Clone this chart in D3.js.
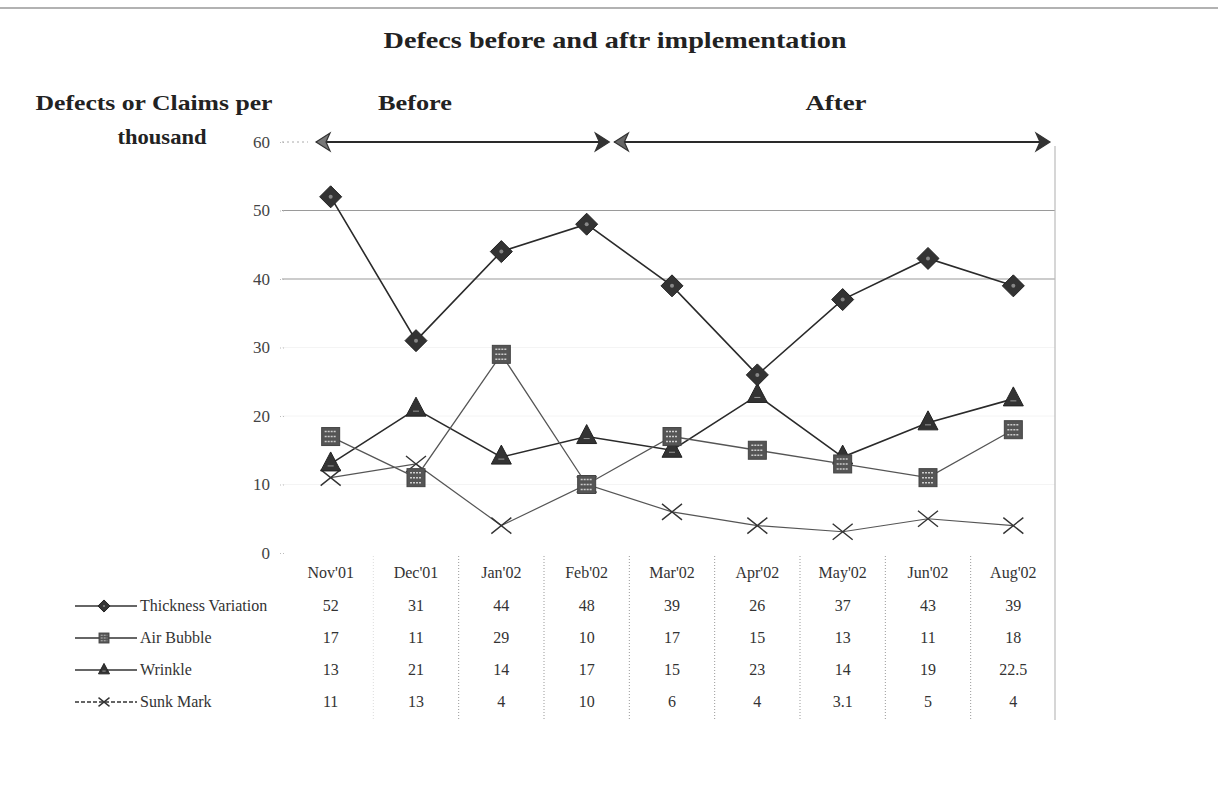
<!DOCTYPE html>
<html><head><meta charset="utf-8">
<script src="https://cdn.jsdelivr.net/npm/d3@7"></script>
<style>
body{margin:0;background:#fff;}
svg{display:block;}
text{font-family:"Liberation Serif","Times New Roman",serif;}
</style></head>
<body>
<script>
const months = ["Nov'01","Dec'01","Jan'02","Feb'02","Mar'02","Apr'02","May'02","Jun'02","Aug'02"];
const thickness = [52,31,44,48,39,26,37,43,39];
const airBubble = [17,11,29,10,17,15,13,11,18];
const wrinkle = [13,21,14,17,15,23,14,19,22.5];
const sunkMark = [11,13,4,10,6,4,3.1,5,4];
const seriesNames = ["Thickness Variation","Air Bubble","Wrinkle","Sunk Mark"];
const tableLabels = [["52","31","44","48","39","26","37","43","39"],["17","11","29","10","17","15","13","11","18"],["13","21","14","17","15","23","14","19","22.5"],["11","13","4","10","6","4","3.1","5","4"]];
const yTicks = [0,10,20,30,40,50,60];

const W=1218,H=793;
const svg=d3.select("body").append("svg").attr("width",W).attr("height",H);
svg.append("rect").attr("width",W).attr("height",H).attr("fill","#fff");

// top scan border
svg.append("line").attr("x1",0).attr("x2",W).attr("y1",8).attr("y2",8).attr("stroke","#999").attr("stroke-width",1.5);

const x=d3.scaleBand().domain(months).range([288,1056]);
const cx=m=>x(m)+x.bandwidth()/2;
const y=d3.scaleLinear().domain([0,60]).range([553,142]);

function label(txt,xc,yb,len,fs){
  svg.append("text").attr("x",xc).attr("y",yb).attr("text-anchor","middle").attr("font-size",fs).attr("font-weight","bold").attr("fill","#222")
    .attr("textLength",len).attr("lengthAdjust","spacingAndGlyphs").text(txt);
}
label("Defecs before and aftr implementation",615,48,463,23);
label("Defects or Claims per",154,110,237,21);
label("thousand",162,144,89,21);
label("Before",415,110,74,21);
label("After",836,110,61,21);

// gridlines
const g=svg.append("g");
[50,40].forEach(v=>g.append("line").attr("x1",282).attr("x2",1055).attr("y1",y(v)).attr("y2",y(v)).attr("stroke","#9a9a9a").attr("stroke-width",1.2));
[30,20,10].forEach(v=>g.append("line").attr("x1",282).attr("x2",1055).attr("y1",y(v)).attr("y2",y(v)).attr("stroke","#f4f4f4").attr("stroke-width",1));
// right frame
g.append("line").attr("x1",1055).attr("x2",1055).attr("y1",146).attr("y2",720).attr("stroke","#bbb").attr("stroke-width",1.2);

// y axis
const yAxis=d3.axisLeft(y).tickValues(yTicks).tickSize(4).tickPadding(10);
const ya=svg.append("g").attr("transform","translate(284,0)").call(yAxis);
ya.select(".domain").remove();
ya.selectAll(".tick line").attr("stroke","#bbb").attr("stroke-dasharray","1,2");
ya.selectAll(".tick text").attr("font-size",17).attr("fill","#444").attr("font-family","Liberation Serif, serif");
svg.append("line").attr("x1",282).attr("x2",308).attr("y1",y(60)).attr("y2",y(60)).attr("stroke","#aaa").attr("stroke-dasharray","2,3");

// arrows
function arrowHead(xTip,yv,dir,fill){
  const w=14,h=9;
  const p=[[xTip,yv],[xTip-dir*w,yv-h],[xTip-dir*w+dir*4,yv],[xTip-dir*w,yv+h]];
  svg.append("path").attr("d",d3.line()(p)+"Z").attr("fill",fill).attr("stroke","#333").attr("stroke-width",1.2);
}
const ay=y(60);
const bStart=x("Nov'01")+28, bEnd=x("Mar'02")-20, aStart=x("Mar'02")-15, aEnd=x("Aug'02")+x.bandwidth()-6;
svg.append("line").attr("x1",bStart).attr("x2",bEnd-8).attr("y1",ay).attr("y2",ay).attr("stroke","#2a2a2a").attr("stroke-width",2.2);
svg.append("line").attr("x1",aStart).attr("x2",aEnd-8).attr("y1",ay).attr("y2",ay).attr("stroke","#2a2a2a").attr("stroke-width",2.2);
arrowHead(bStart,ay,-1,"#777");
arrowHead(bEnd,ay,1,"#333");
arrowHead(aStart,ay,-1,"#666");
arrowHead(aEnd,ay,1,"#333");

// series
const series=[
 {name:seriesNames[0],vals:thickness,stroke:"#2a2a2a",sw:1.6,marker:"diamond"},
 {name:seriesNames[1],vals:airBubble,stroke:"#555",sw:1.3,marker:"square"},
 {name:seriesNames[2],vals:wrinkle,stroke:"#2a2a2a",sw:1.6,marker:"triangle"},
 {name:seriesNames[3],vals:sunkMark,stroke:"#555",sw:1.2,marker:"x"}
];
const line=d3.line().x((d,i)=>cx(months[i])).y(d=>y(d));

function drawMarker(sel,type,px,py,scale){
  const s=scale||1;
  if(type==="diamond"){
    const a=11*s;
    sel.append("path").attr("d",`M${px},${py-a}L${px+a},${py}L${px},${py+a}L${px-a},${py}Z`).attr("fill","#333").attr("stroke","#222");
    sel.append("circle").attr("cx",px).attr("cy",py).attr("r",2*s).attr("fill","#888");
  } else if(type==="square"){
    const a=9*s;
    sel.append("rect").attr("x",px-a).attr("y",py-a).attr("width",2*a).attr("height",2*a).attr("fill","#555").attr("stroke","#444");
    for(let k=-1;k<=1;k++) sel.append("line").attr("x1",px-a+3*s).attr("x2",px+a-3*s).attr("y1",py+k*5*s).attr("y2",py+k*5*s).attr("stroke","#ccc").attr("stroke-width",1.5*s).attr("stroke-dasharray","2,1");
  } else if(type==="triangle"){
    const a=10*s;
    sel.append("path").attr("d",`M${px},${py-a-2*s}L${px+a},${py+a*0.7}L${px-a},${py+a*0.7}Z`).attr("fill","#333").attr("stroke","#222");
    sel.append("line").attr("x1",px-3*s).attr("x2",px+3*s).attr("y1",py+2*s).attr("y2",py+2*s).attr("stroke","#999").attr("stroke-width",1);
  } else if(type==="x"){
    const a=10*s;
    sel.append("path").attr("d",`M${px-a},${py-a*0.8}L${px+a},${py+a*0.8}M${px-a},${py+a*0.8}L${px+a},${py-a*0.8}`).attr("stroke","#333").attr("stroke-width",1.4).attr("fill","none");
  }
}

const sg=svg.append("g");
series.slice().reverse().forEach(s=>{
  sg.append("path").datum(s.vals).attr("d",line).attr("fill","none").attr("stroke",s.stroke).attr("stroke-width",s.sw);
});
series.slice().reverse().forEach(s=>{
  s.vals.forEach((v,i)=>drawMarker(sg,s.marker,cx(months[i]),y(v),1));
});

// data table
const tg=svg.append("g");
months.forEach((m,i)=>{
  tg.append("text").attr("x",cx(m)).attr("y",578).attr("text-anchor","middle").attr("font-size",16).attr("fill","#333").text(m);
  if(i>0){
    tg.append("line").attr("x1",x(m)).attr("x2",x(m)).attr("y1",556).attr("y2",720).attr("stroke",i>=2?"#999":"#ddd").attr("stroke-width",1).attr("stroke-dasharray","1,2");
  }
});
const rowY=[611,643,675,707];
series.forEach((s,r)=>{
  tableLabels[r].forEach((t,i)=>{
    tg.append("text").attr("x",cx(months[i])).attr("y",rowY[r]).attr("text-anchor","middle").attr("font-size",16).attr("fill","#333").text(t);
  });
  const ly=rowY[r]-5;
  tg.append("line").attr("x1",75).attr("x2",137).attr("y1",ly).attr("y2",ly).attr("stroke","#333").attr("stroke-width",1.4).attr("stroke-dasharray",r===3?"4,2":null);
  drawMarker(tg,s.marker,104,ly,0.55);
  tg.append("text").attr("x",140).attr("y",rowY[r]).attr("font-size",16).attr("fill","#333").text(s.name);
});
</script>
</body></html>
